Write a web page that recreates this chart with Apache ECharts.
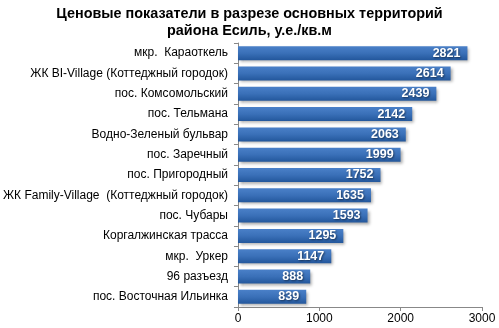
<!DOCTYPE html>
<html>
<head>
<meta charset="utf-8">
<script src="https://cdn.jsdelivr.net/npm/echarts@6/dist/echarts.min.js"></script>
<style>
  html, body { margin: 0; padding: 0; background: #fff; }
  #chart { width: 499px; height: 328px; }
</style>
</head>
<body>
<div id="chart"></div>
<script>
// Districts, listed top to bottom
const categories = [
  'мкр.  Караоткель',
  'ЖК BI-Village (Коттеджный городок)',
  'пос. Комсомольский',
  'пос. Тельмана',
  'Водно-Зеленый бульвар',
  'пос. Заречный',
  'пос. Пригородный',
  'ЖК Family-Village  (Коттеджный городок)',
  'пос. Чубары',
  'Коргалжинская трасса',
  'мкр.  Уркер',
  '96 разъезд',
  'пос. Восточная Ильинка'
];
// Price per square metre, c.u.
const prices = [2821, 2614, 2439, 2142, 2063, 1999, 1752, 1635, 1593, 1295, 1147, 888, 839];
const xTicks = [0, 1000, 2000, 3000];

const font = 'Liberation Sans, Arial, sans-serif';
const chart = echarts.init(document.getElementById('chart'));
chart.setOption({
  animation: false,
  title: {
    text: 'Ценовые показатели в разрезе основных территорий\nрайона Есиль, у.е./кв.м',
    left: 'center',
    top: 1,
    textStyle: {
      fontFamily: font,
      fontSize: 14.4,
      fontWeight: 'bold',
      color: '#000',
      lineHeight: 17
    }
  },
  grid: { left: 236, right: 17, top: 43, bottom: 21, containLabel: false },
  xAxis: {
    type: 'value',
    min: xTicks[0],
    max: xTicks[xTicks.length - 1],
    interval: 1000,
    splitLine: { show: false },
    axisLine: { show: true, lineStyle: { color: '#888', width: 1 } },
    axisTick: { show: true, length: 4, lineStyle: { color: '#888' } },
    axisLabel: {
      color: '#000',
      fontFamily: font,
      fontSize: 12,
      margin: 6,
      formatter: v => String(v)
    }
  },
  yAxis: {
    type: 'category',
    data: categories,
    inverse: true,
    axisLine: { show: true, lineStyle: { color: '#888', width: 1 } },
    axisTick: { show: true, length: 4, lineStyle: { color: '#888' } },
    axisLabel: {
      color: '#000',
      fontFamily: font,
      fontSize: 12,
      margin: 10
    }
  },
  series: [{
    type: 'bar',
    data: prices,
    barWidth: 14,
    itemStyle: {
      color: new echarts.graphic.LinearGradient(0, 0, 0, 1, [
        { offset: 0, color: '#4a80c8' },
        { offset: 0.5, color: '#3a70b8' },
        { offset: 1, color: '#23579c' }
      ]),
      shadowColor: 'rgba(0,0,0,0.35)',
      shadowBlur: 3,
      shadowOffsetX: 2,
      shadowOffsetY: 2
    },
    label: {
      show: true,
      position: 'insideRight',
      distance: 7,
      color: '#fff',
      fontFamily: font,
      fontSize: 12.5,
      fontWeight: 'bold',
      textShadowColor: 'rgba(0,0,0,0.5)',
      textShadowBlur: 2,
      textShadowOffsetX: 1,
      textShadowOffsetY: 1
    }
  }]
});
</script>
</body>
</html>
